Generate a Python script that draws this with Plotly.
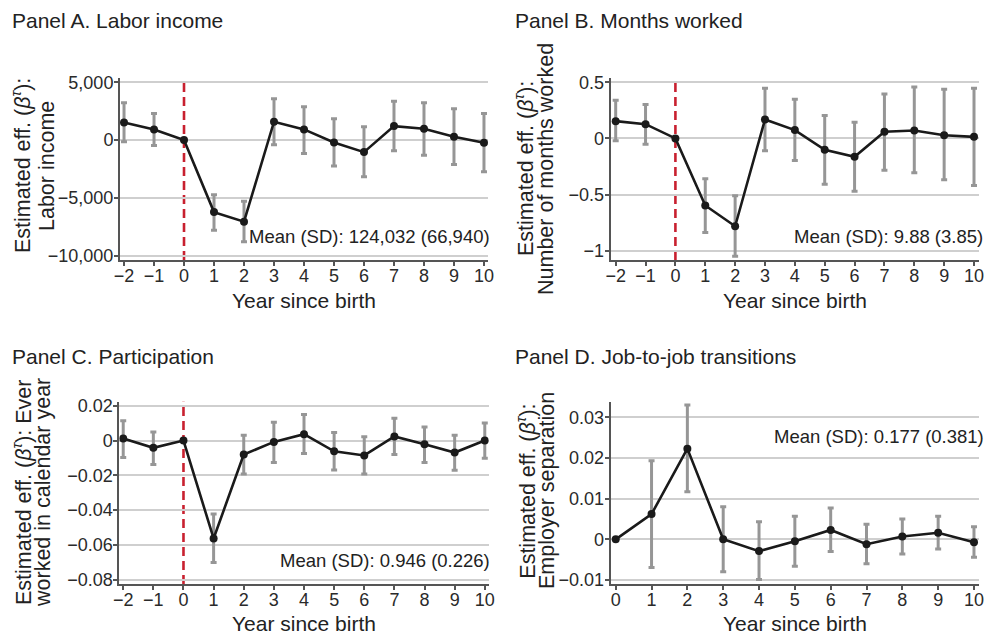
import plotly.graph_objects as go

# ---------------- data ----------------
years_ab = [-2, -1, 0, 1, 2, 3, 4, 5, 6, 7, 8, 9, 10]
years_d = [0, 1, 2, 3, 4, 5, 6, 7, 8, 9, 10]
year_labels_ab = ["\u22122", "\u22121", "0", "1", "2", "3", "4", "5", "6", "7", "8", "9", "10"]
year_labels_d = ["0", "1", "2", "3", "4", "5", "6", "7", "8", "9", "10"]

income_est = [1530, 925, 0, -6230, -7060, 1590, 925, -200, -1040, 1210, 980, 290, -230]
income_lo = [-150, -460, None, -7790, -8800, -400, -1150, -2250, -3170, -920, -1300, -2100, -2740]
income_hi = [3230, 2310, None, -4730, -5280, 3580, 2890, 1850, 1150, 3370, 3230, 2710, 2310]
income_ticks = [-10000, -5000, 0, 5000]
income_ticklabels = ["\u221210,000", "\u22125,000", "0", "5,000"]

months_est = [0.154, 0.127, 0, -0.597, -0.782, 0.169, 0.074, -0.101, -0.164, 0.059, 0.071, 0.029, 0.014]
months_lo = [-0.021, -0.051, None, -0.838, -1.049, -0.110, -0.196, -0.407, -0.470, -0.283, -0.306, -0.369, -0.419]
months_hi = [0.339, 0.303, None, -0.360, -0.511, 0.448, 0.350, 0.205, 0.145, 0.395, 0.457, 0.437, 0.448]
months_ticks = [-1, -0.5, 0, 0.5]
months_ticklabels = ["\u22121", "\u22120.5", "0", "0.5"]

part_est = [0.0011, -0.0042, 0, -0.0563, -0.0081, -0.0008, 0.0036, -0.0062, -0.0086, 0.0023, -0.0021, -0.0069, 0.0000]
part_lo = [-0.0098, -0.0138, None, -0.0701, -0.0192, -0.0126, -0.0075, -0.0169, -0.0192, -0.0081, -0.0126, -0.0171, -0.0102]
part_hi = [0.0113, 0.0049, None, -0.0422, 0.0030, 0.0105, 0.0149, 0.0046, 0.0021, 0.0128, 0.0078, 0.0030, 0.0101]
part_ticks = [-0.08, -0.06, -0.04, -0.02, 0, 0.02]
part_ticklabels = ["\u22120.08", "\u22120.06", "\u22120.04", "\u22120.02", "0", "0.02"]

sep_est = [0, 0.0062, 0.0223, 0.0, -0.0029, -0.0005, 0.0023, -0.0012, 0.0007, 0.0016, -0.0007]
sep_lo = [None, -0.0069, 0.0117, -0.0080, -0.0099, -0.0066, -0.0030, -0.0060, -0.0036, -0.0024, -0.0044]
sep_hi = [None, 0.0193, 0.0330, 0.0080, 0.0043, 0.0057, 0.0077, 0.0037, 0.0050, 0.0057, 0.0031]
sep_ticks = [-0.01, 0, 0.01, 0.02, 0.03]
sep_ticklabels = ["\u22120.01", "0", "0.01", "0.02", "0.03"]

panel_titles = ["Panel A. Labor income", "Panel B. Months worked",
                "Panel C. Participation", "Panel D. Job-to-job transitions"]
beta = "(<i>\u03b2</i><sup><i>\u03c4</i></sup>)"
ytitles = [
    ["Estimated eff. " + beta + ":", "Labor income"],
    ["Estimated eff. " + beta + ":", "Number of months worked"],
    ["Estimated eff. " + beta + ": Ever", "worked in calendar year"],
    ["Estimated eff. " + beta + ":", "Employer separation"],
]
mean_texts = ["Mean (SD): 124,032 (66,940)", "Mean (SD): 9.88 (3.85)",
              "Mean (SD): 0.946 (0.226)", "Mean (SD): 0.177 (0.381)"]
mean_y = [-8365, -0.877, -0.0692, 0.02523]
xlabel = "Year since birth"

# ---------------- layout helpers ----------------
W, H = 988, 634
def px(x):
    return x / W
def py(y):
    return 1 - y / H

FONT = "Liberation Sans, Arial, Helvetica, sans-serif"
TXT = "#222222"

panels = [
    dict(x=years_ab, xl=year_labels_ab, est=income_est, lo=income_lo, hi=income_hi,
         yt=income_ticks, ytl=income_ticklabels, box=(120, 488, 78.3, 260),
         xr=[-2.134, 10.134], yr=[-10372, 5346], vline=True),
    dict(x=years_ab, xl=year_labels_ab, est=months_est, lo=months_lo, hi=months_hi,
         yt=months_ticks, ytl=months_ticklabels, box=(610.7, 979, 78.3, 260),
         xr=[-2.167, 10.167], yr=[-1.0828, 0.5356], vline=True),
    dict(x=years_ab, xl=year_labels_ab, est=part_est, lo=part_lo, hi=part_hi,
         yt=part_ticks, ytl=part_ticklabels, box=(119.3, 488.7, 401.7, 584),
         xr=[-2.13, 10.13], yr=[-0.08247, 0.0223], vline=True),
    dict(x=years_d, xl=year_labels_d, est=sep_est, lo=sep_lo, hi=sep_hi,
         yt=sep_ticks, ytl=sep_ticklabels, box=(610.7, 979, 401.7, 584.3),
         xr=[-0.14, 10.14], yr=[-0.01106, 0.03384], vline=False),
]

title_pos = [(10, 20.7), (513, 20.7), (10, 356.7), (513, 356.7)]
ytitle_pos = [((21, 47), 166), ((524, 546), 169), ((22, 43), 493), ((525.7, 547), 491)]
xtitle_pos = [(304, 300.7), (795, 300.7), (304, 623.5), (795, 623.5)]
mean_right = [491.7, 984.7, 491.7, 985.7]

fig = go.Figure()
layout = dict(
    width=W, height=H, autosize=False, margin=dict(l=0, r=0, t=0, b=0, pad=0),
    paper_bgcolor="white", plot_bgcolor="white", showlegend=False,
    font=dict(family=FONT, color=TXT),
)
annotations = []
shapes = []

for i, p in enumerate(panels):
    n = "" if i == 0 else str(i + 1)
    xa, ya = "x" + n, "y" + n
    left, right, top, bottom = p["box"]

    ex, ey, eplus, eminus = [], [], [], []
    for xv, e, lo, hi in zip(p["x"], p["est"], p["lo"], p["hi"]):
        if lo is None or hi is None:
            continue
        ex.append(xv)
        ey.append(e)
        eplus.append(hi - e)
        eminus.append(e - lo)
    fig.add_trace(go.Scatter(
        x=ex, y=ey, mode="markers", xaxis=xa, yaxis=ya,
        marker=dict(size=1, opacity=0),
        error_y=dict(type="data", symmetric=False, array=eplus, arrayminus=eminus,
                     color="rgb(150,150,150)", thickness=3, width=3),
        hoverinfo="skip",
    ))
    fig.add_trace(go.Scatter(
        x=p["x"], y=p["est"], mode="lines+markers", xaxis=xa, yaxis=ya,
        line=dict(color="#1a1a1a", width=2.6),
        marker=dict(color="#1a1a1a", size=8),
    ))

    axis_common = dict(
        showline=True, linecolor="#555555", linewidth=2,
        ticks="outside", ticklen=4, tickwidth=1.5, tickcolor="#555555",
        zeroline=False, tickfont=dict(size=18, color="#2a2a2a", family=FONT),
        fixedrange=True, automargin=False,
    )
    layout["xaxis" + n] = dict(
        axis_common, domain=[px(left), px(right)], range=p["xr"],
        anchor=ya, showgrid=False, tickmode="array", tickvals=p["x"], ticktext=p["xl"],
        ticklabelstandoff=-6,
    )
    layout["yaxis" + n] = dict(
        axis_common, domain=[py(bottom), py(top)], range=p["yr"],
        anchor=xa, showgrid=True, gridcolor="#cfcfcf", gridwidth=1.5,
        tickmode="array", tickvals=p["yt"], ticktext=p["ytl"],
        ticklabelstandoff=-3,
    )

    if p["vline"]:
        shapes.append(dict(
            type="line", xref=xa, yref="paper", x0=0, x1=0, y0=py(bottom), y1=py(top),
            line=dict(color="#c8202f", width=2.6, dash="9px,5px"), layer="below",
        ))

    tx, ty = title_pos[i]
    annotations.append(dict(
        text=panel_titles[i], xref="paper", yref="paper", x=px(tx), y=py(ty),
        xanchor="left", yanchor="middle", showarrow=False,
        font=dict(size=21, color=TXT, family=FONT),
    ))
    (lx1, lx2), ly = ytitle_pos[i]
    for txt, lx in zip(ytitles[i], (lx1, lx2)):
        annotations.append(dict(
            text=txt, xref="paper", yref="paper", x=px(lx), y=py(ly),
            xanchor="center", yanchor="middle", textangle=-90, showarrow=False,
            font=dict(size=21.5, color=TXT, family=FONT),
        ))
    xx, xy = xtitle_pos[i]
    annotations.append(dict(
        text=xlabel, xref="paper", yref="paper", x=px(xx), y=py(xy),
        xanchor="center", yanchor="middle", showarrow=False,
        font=dict(size=21, color=TXT, family=FONT),
    ))
    annotations.append(dict(
        text=mean_texts[i], xref="paper", yref=ya, x=px(mean_right[i]), y=mean_y[i],
        xanchor="right", yanchor="middle", showarrow=False,
        font=dict(size=18.5, color=TXT, family=FONT),
    ))

layout["annotations"] = annotations
layout["shapes"] = shapes
fig.update_layout(**layout)
fig.write_html(
    "out.html",
    config={"displayModeBar": False},
    post_script="document.body.style.margin='0';document.body.style.overflow='hidden';",
)
